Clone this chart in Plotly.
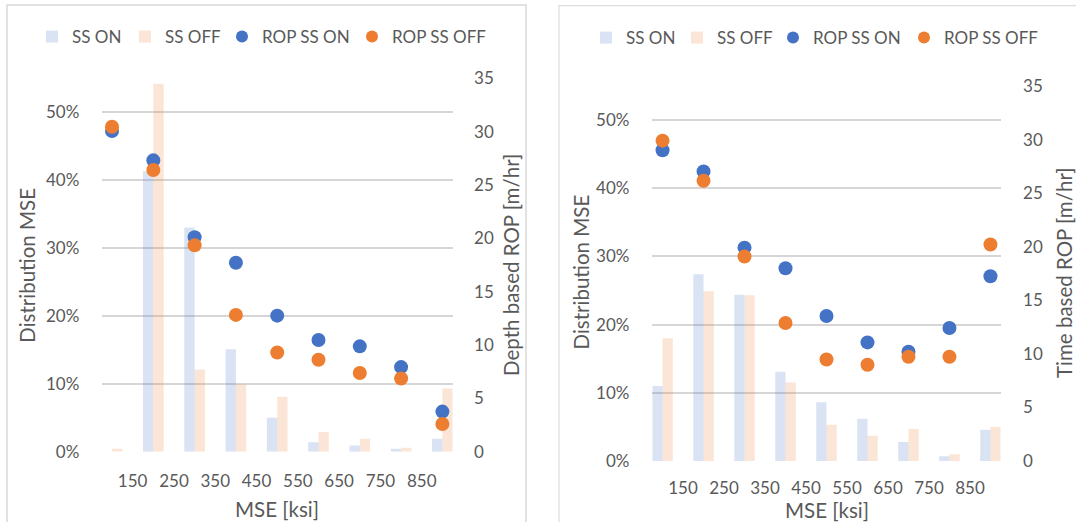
import plotly.graph_objects as go

# ---------------- data ----------------
mse_bins = [100, 200, 300, 400, 500, 600, 700, 800, 900]
tick_vals = [150, 250, 350, 450, 550, 650, 750, 850]
tick_text = ["150", "250", "350", "450", "550", "650", "750", "850"]

# left chart: depth based ROP
left_ss_on = [0.000, 0.413, 0.330, 0.151, 0.050, 0.014, 0.009, 0.0045, 0.019]
left_ss_off = [0.0044, 0.542, 0.121, 0.099, 0.081, 0.029, 0.019, 0.006, 0.093]
left_rop_on = [30.05, 27.3, 20.1, 17.7, 12.75, 10.47, 9.87, 7.93, 3.76]
left_rop_off = [30.45, 26.4, 19.35, 12.82, 9.3, 8.62, 7.37, 6.86, 2.6]

# right chart: time based ROP
right_ss_on = [0.110, 0.274, 0.244, 0.131, 0.086, 0.062, 0.028, 0.007, 0.046]
right_ss_off = [0.180, 0.249, 0.243, 0.115, 0.053, 0.037, 0.047, 0.010, 0.050]
right_rop_on = [29.0, 27.03, 19.9, 17.99, 13.53, 11.07, 10.2, 12.41, 17.24]
right_rop_off = [29.9, 26.16, 19.08, 12.88, 9.48, 8.98, 9.73, 9.73, 20.2]

series_names = ["SS ON", "SS OFF", "ROP SS ON", "ROP SS OFF"]
left_titles = ["Distribution MSE", "Depth based ROP [m/hr]", "MSE [ksi]"]
right_titles = ["Distribution MSE", "Time based ROP [m/hr]", "MSE [ksi]"]

# ---------------- style ----------------
W, H = 1076, 522
FONT = "Lato"
TXT = "#595959"
GRID = "#d6d6d6"
BLUE = "#4472c4"
ORANGE = "#ed7d31"
BLUE_BAR = "rgba(68,114,196,0.2)"
ORANGE_BAR = "rgba(237,125,49,0.2)"
TICK_SIZE = 17
TITLE_SIZE = 20.5


def fx(p):
    return p / W


def fy(p):
    return 1 - p / H


fig = go.Figure()

panels = [
    dict(xa="x", ya="y", ya2="y2", on=left_ss_on, off=left_ss_off,
         ron=left_rop_on, roff=left_rop_off,
         legends=["legend", "legend2", "legend3", "legend4"],
         leg_x=[72, 165, 262, 392], leg_y=37),
    dict(xa="x2", ya="y3", ya2="y4", on=right_ss_on, off=right_ss_off,
         ron=right_rop_on, roff=right_rop_off,
         legends=["legend5", "legend6", "legend7", "legend8"],
         leg_x=[626, 717, 813, 944], leg_y=38),
]

for p in panels:
    fig.add_trace(go.Bar(x=mse_bins, y=p["on"], name=series_names[0],
                         marker=dict(color=BLUE_BAR, line=dict(width=0)),
                         xaxis=p["xa"], yaxis=p["ya"], legend=p["legends"][0],
                         showlegend=True, offsetgroup="a" + p["xa"]))
    fig.add_trace(go.Bar(x=mse_bins, y=p["off"], name=series_names[1],
                         marker=dict(color=ORANGE_BAR, line=dict(width=0)),
                         xaxis=p["xa"], yaxis=p["ya"], legend=p["legends"][1],
                         showlegend=True, offsetgroup="b" + p["xa"]))
    fig.add_trace(go.Scatter(x=mse_bins, y=p["ron"], name=series_names[2],
                             mode="markers", showlegend=True,
                             marker=dict(color=BLUE, size=14, line=dict(width=0)),
                             xaxis=p["xa"], yaxis=p["ya2"], legend=p["legends"][2]))
    fig.add_trace(go.Scatter(x=mse_bins, y=p["roff"], name=series_names[3],
                             mode="markers", showlegend=True,
                             marker=dict(color=ORANGE, size=14, line=dict(width=0)),
                             xaxis=p["xa"], yaxis=p["ya2"], legend=p["legends"][3]))

tickfont = dict(family=FONT, size=TICK_SIZE, color=TXT)


def xaxis(domain, anchor, ticklen):
    return dict(domain=domain, anchor=anchor, range=[75, 925],
                tickmode="array", tickvals=tick_vals, ticktext=tick_text,
                showgrid=False, zeroline=False, showline=False, automargin=False,
                ticks="outside", ticklen=ticklen, tickcolor="rgba(0,0,0,0)",
                tickfont=tickfont)


def yleft(domain, anchor, ticklen):
    return dict(domain=domain, anchor=anchor, range=[0, 0.55], dtick=0.1,
                tick0=0, tickformat=".0%", showgrid=True, gridcolor=GRID,
                gridwidth=1.6, zeroline=False, showline=False, automargin=False,
                ticks="outside", ticklen=ticklen, tickcolor="rgba(0,0,0,0)",
                tickfont=tickfont)


def yright(overlay, anchor, ticklen):
    return dict(overlaying=overlay, anchor=anchor, side="right",
                range=[0, 35], dtick=5, tick0=0, showgrid=False,
                zeroline=False, showline=False, automargin=False,
                ticks="outside", ticklen=ticklen, tickcolor="rgba(0,0,0,0)",
                tickfont=tickfont)


layout = dict(
    width=W, height=H,
    margin=dict(l=0, r=0, t=0, b=0, pad=0, autoexpand=False),
    showlegend=True,
    paper_bgcolor="white", plot_bgcolor="rgba(0,0,0,0)",
    barmode="group", bargap=0.5, bargroupgap=0,
    font=dict(family=FONT, color=TXT),
    xaxis=xaxis([fx(101.7), fx(452.7)], "y", 14),
    yaxis=yleft([fy(451.7), fy(78.2)], "x", 18),
    yaxis2=yright("y", "x", 17),
    xaxis2=xaxis([fx(652.3), fx(1000.7)], "y3", 11.5),
    yaxis3=yleft([fy(461), fy(86)], "x2", 18.5),
    yaxis4=yright("y3", "x2", 18),
)

for p in panels:
    for name, lx in zip(p["legends"], p["leg_x"]):
        layout[name] = dict(orientation="h", x=fx(lx - 40), y=fy(p["leg_y"]),
                            xanchor="left", yanchor="middle",
                            bgcolor="rgba(0,0,0,0)", borderwidth=0,
                            itemsizing="constant",
                            font=dict(family=FONT, size=TICK_SIZE, color=TXT),
                            itemclick=False, itemdoubleclick=False)

fig.update_layout(**layout)

# axis titles
ann = []
for titles, pos in [
    (left_titles, [(26.7, 265, -90), (511, 265, -90), (277, 508.5, 0)]),
    (right_titles, [(580, 272.5, -90), (1064, 273, -90), (827, 509.5, 0)]),
]:
    for t, (ax_, ay_, ang) in zip(titles, pos):
        ann.append(dict(text=t, x=fx(ax_), y=fy(ay_), xref="paper", yref="paper",
                        showarrow=False, textangle=ang, xanchor="center",
                        yanchor="middle",
                        font=dict(family=FONT, size=TITLE_SIZE, color=TXT)))
fig.update_layout(annotations=ann)

# chart area borders
fig.add_shape(type="rect", xref="paper", yref="paper",
              x0=fx(7), x1=fx(526), y0=fy(540), y1=fy(5),
              line=dict(color="#d9d9d9", width=1.5), fillcolor="rgba(0,0,0,0)")
fig.add_shape(type="rect", xref="paper", yref="paper",
              x0=fx(559), x1=fx(1090), y0=fy(540), y1=fy(5.7),
              line=dict(color="#dcdcdc", width=1.2), fillcolor="rgba(0,0,0,0)")

fig.write_html(
    "out.html",
    config={"displayModeBar": False},
    post_script="document.body.style.margin='0';document.body.style.overflow='hidden';",
)
